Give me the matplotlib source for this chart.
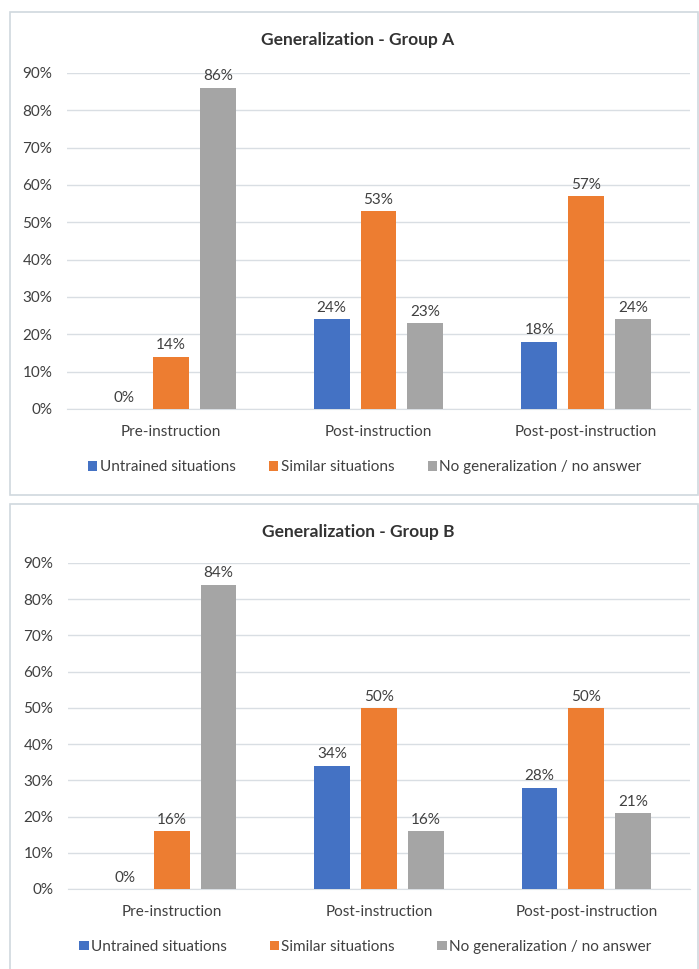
import matplotlib.pyplot as plt
from matplotlib.patches import Rectangle
from matplotlib.ticker import PercentFormatter
import numpy as np

plt.rcParams["font.family"] = ["Lato", "DejaVu Sans"]

categories = ["Pre-instruction", "Post-instruction", "Post-post-instruction"]
series_names = ["Untrained situations", "Similar situations", "No generalization / no answer"]
colors = ["#4472C4", "#ED7D31", "#A5A5A5"]

# Group A values (percent)
group_a_untrained = [0, 24, 18]
group_a_similar = [14, 53, 57]
group_a_nogen = [86, 23, 24]

# Group B values (percent)
group_b_untrained = [0, 34, 28]
group_b_similar = [16, 50, 50]
group_b_nogen = [84, 16, 21]

y_ticks = [0, 10, 20, 30, 40, 50, 60, 70, 80, 90]

text_color = "#404040"
grid_color = "#D9DEE3"

W, H = 699, 969
fig = plt.figure(figsize=(W / 100, H / 100), dpi=100)


def fx(px):
    return px / W


def fy(py):
    return 1 - py / H


# Chart frames
for top, bottom in [(12, 495), (504, 975)]:
    fig.patches.append(
        Rectangle(
            (fx(10), fy(bottom)),
            fx(698) - fx(10),
            fy(top) - fy(bottom),
            transform=fig.transFigure,
            facecolor="none",
            edgecolor="#D0D8DE",
            linewidth=1.2,
            zorder=5,
        )
    )


def draw_chart(ax, series, title, title_y, legend_y, col_space):
    x = np.arange(len(categories))
    bar_w = 0.173
    step = 0.226
    for k, (vals, name, col) in enumerate(zip(series, series_names, colors)):
        pos = x + (k - 1) * step
        ax.bar(pos, vals, width=bar_w, color=col, label=name, zorder=3)
        for p, v in zip(pos, vals):
            ax.text(
                p, v + 1.2, f"{v}%", ha="center", va="bottom",
                fontsize=11, color=text_color, clip_on=False,
            )
    ax.set_xlim(-0.5, 2.5)
    ax.set_ylim(0, 90)
    ax.set_yticks(y_ticks)
    ax.yaxis.set_major_formatter(PercentFormatter(decimals=0))
    ax.set_xticks(x)
    ax.set_xticklabels(categories)
    ax.grid(axis="y", color=grid_color, linewidth=1, zorder=0)
    for s in ["top", "right", "left"]:
        ax.spines[s].set_visible(False)
    ax.spines["bottom"].set_color(grid_color)
    ax.tick_params(axis="both", length=0, labelsize=11, labelcolor=text_color)
    ax.tick_params(axis="x", pad=11.5)
    ax.tick_params(axis="y", pad=10.5)
    fig.text(0.512, title_y, title, ha="center", va="center",
             fontsize=12.5, fontweight="bold", color="#333333")
    ax.legend(
        loc="center", bbox_to_anchor=(0.478, legend_y), ncol=3, frameon=False,
        fontsize=11, handlelength=0.6, handleheight=0.6, handletextpad=0.15,
        columnspacing=col_space, labelcolor=text_color,
    )


ax_a = fig.add_axes([fx(67), fy(409), fx(690) - fx(67), fy(73) - fy(409)])
ax_a.patch.set_alpha(0)
draw_chart(ax_a, [group_a_untrained, group_a_similar, group_a_nogen],
           "Generalization - Group A", fy(40), -0.173, 2.2)

ax_b = fig.add_axes([fx(68), fy(889), fx(690) - fx(68), fy(563) - fy(889)])
ax_b.patch.set_alpha(0)
draw_chart(ax_b, [group_b_untrained, group_b_similar, group_b_nogen],
           "Generalization - Group B", fy(532), -0.178, 2.8)

fig.savefig("out.png", dpi=100)
